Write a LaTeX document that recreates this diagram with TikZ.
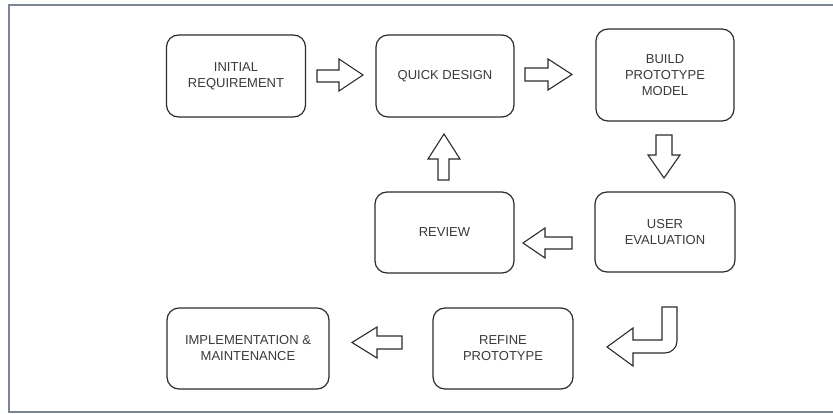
\documentclass[tikz,border=0pt]{standalone}
\usepackage{fontspec}
\setmainfont{Liberation Sans}
\definecolor{framegray}{HTML}{7A8593}
\definecolor{textgray}{HTML}{3A3A3A}
\definecolor{strokegray}{HTML}{2B2B2B}
\begin{document}
\begin{tikzpicture}[x=1pt,y=-1pt,
  stage/.style={draw=strokegray,line width=1.2pt,rounded corners=12pt,fill=white,
    align=center,text=textgray,font=\fontsize{13}{16}\selectfont,inner sep=0pt},
  blockarrow/.style={draw=strokegray,line width=1.1pt,fill=white,line join=miter}]
\useasboundingbox (0,0) rectangle (833,414);
% outer frame (open on the right)
\draw[framegray,line width=1.4pt] (833,5) -- (9,5) -- (9,412) -- (833,412);

% stages
\node[stage,minimum width=139pt,minimum height=82pt] (init) at (236,76) {INITIAL\\REQUIREMENT};
\node[stage,minimum width=138pt,minimum height=82pt] (quick) at (445,76) {QUICK DESIGN};
\node[stage,minimum width=138pt,minimum height=92pt] (build) at (665,75) {BUILD\\PROTOTYPE\\MODEL};
\node[stage,minimum width=140pt,minimum height=80pt] (user) at (665,232) {USER\\EVALUATION};
\node[stage,minimum width=139pt,minimum height=81pt] (review) at (444.5,232.5) {REVIEW};
\node[stage,minimum width=140pt,minimum height=81pt] (refine) at (503,348.5) {REFINE\\PROTOTYPE};
\node[stage,minimum width=162pt,minimum height=81pt] (impl) at (248,348.5) {IMPLEMENTATION \&\\MAINTENANCE};

% block arrows between stages
% initial requirement -> quick design
\draw[blockarrow] (317,70) -- (339,70) -- (339,59) -- (363,75) -- (339,91) -- (339,82) -- (317,82) -- cycle;
% quick design -> build prototype
\draw[blockarrow] (525,68) -- (548,68) -- (548,59) -- (572,74.5) -- (548,90) -- (548,81) -- (525,81) -- cycle;
% build prototype -> user evaluation
\draw[blockarrow] (656,135) -- (672,135) -- (672,155) -- (680,155) -- (664,178) -- (648,155) -- (656,155) -- cycle;
% user evaluation -> review
\draw[blockarrow] (572,237) -- (545,237) -- (545,228) -- (523,243) -- (545,258) -- (545,249) -- (572,249) -- cycle;
% review -> quick design
\draw[blockarrow] (438,180) -- (438,159) -- (428,159) -- (444,134) -- (460,159) -- (449,159) -- (449,180) -- cycle;
% user evaluation -> refine prototype (bent)
\draw[blockarrow] (662,307) -- (677,307) -- (677,341) arc[start angle=0,end angle=90,radius=12] -- (633,353) -- (633,366) -- (607,347) -- (633,328) -- (633,340) -- (662,340) -- cycle;
% refine prototype -> implementation
\draw[blockarrow] (402,336) -- (377,336) -- (377,327) -- (352,342.5) -- (377,358) -- (377,349) -- (402,349) -- cycle;
\end{tikzpicture}
\end{document}
